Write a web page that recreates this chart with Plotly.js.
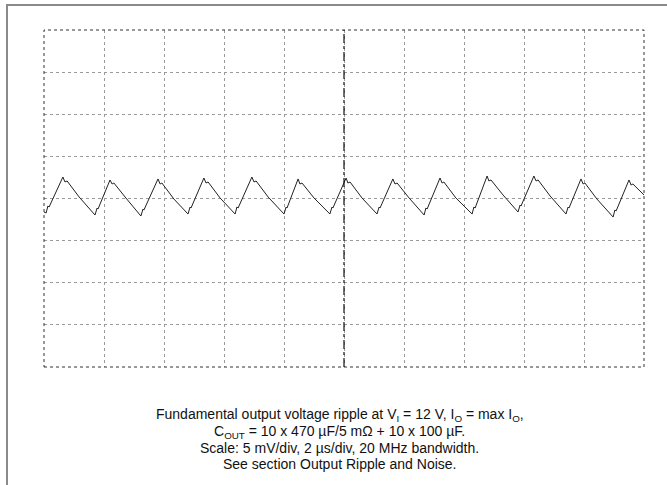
<!DOCTYPE html>
<html>
<head>
<meta charset="utf-8">
<script src="https://cdn.plot.ly/plotly-3.0.1.min.js"></script>
<style>
  html, body { margin: 0; padding: 0; background: #fff; }
  #wrap { position: relative; width: 667px; height: 485px; overflow: hidden; }
  #chart { position: absolute; left: 0; top: 0; width: 667px; height: 485px; }
  #border { position: absolute; left: 6px; top: 4px; width: 700px; height: 600px;
            border-left: 2px solid #8a8a8a; border-top: 2px solid #8a8a8a; pointer-events: none; }
</style>
</head>
<body>
<div id="wrap">
  <div id="chart"></div>
  <div id="border"></div>
</div>
<script>
// Oscilloscope trace: time in µs (2 µs/div), voltage in mV (5 mV/div)
const timeUs = [
  0.00, 0.07, 0.13, 0.17, 0.63, 0.70, 0.77, 1.17, 1.70,
  1.77, 1.80, 2.20, 2.27, 2.33, 2.73, 3.23,
  3.30, 3.33, 3.80, 3.87, 3.93, 4.33, 4.80,
  4.87, 4.90, 5.33, 5.40, 5.47, 5.87, 6.37,
  6.43, 6.47, 6.93, 7.00, 7.07, 7.47, 8.00,
  8.07, 8.10, 8.47, 8.53, 8.60, 9.00, 9.53,
  9.60, 9.63, 10.07, 10.13, 10.20, 10.60, 11.10,
  11.17, 11.20, 11.63, 11.70, 11.77, 12.17, 12.67,
  12.73, 12.77, 13.20, 13.27, 13.33, 13.73, 14.27,
  14.33, 14.37, 14.77, 14.83, 14.90, 15.30, 15.80,
  15.87, 15.90, 16.33, 16.40, 16.47, 16.87, 17.40,
  17.47, 17.50, 17.90, 17.97, 18.03, 18.43, 18.97,
  19.03, 19.07, 19.50, 19.57, 19.63, 20.00
];
const rippleMv = [
  -1.60, -1.72, -0.89, -1.01, 2.55, 1.96, 2.08, 0.18, -1.96,
  -1.13, -1.25, 2.20, 1.72, 1.84, 0.06, -2.08,
  -1.25, -1.37, 2.32, 1.72, 1.84, -0.06, -1.84,
  -1.01, -1.13, 2.43, 1.84, 1.96, 0.06, -1.84,
  -1.01, -1.13, 2.55, 1.96, 2.08, 0.18, -1.84,
  -1.01, -1.13, 2.32, 1.72, 1.84, 0.06, -1.84,
  -1.01, -1.13, 2.43, 1.84, 1.96, 0.06, -1.84,
  -1.01, -1.13, 2.32, 1.72, 1.84, 0.06, -1.96,
  -1.13, -1.25, 2.43, 1.84, 1.96, 0.06, -1.84,
  -1.01, -1.13, 2.67, 2.08, 2.20, 0.42, -1.60,
  -0.77, -0.89, 2.67, 2.08, 2.20, 0.30, -1.84,
  -1.01, -1.13, 2.32, 1.72, 1.84, -0.06, -2.20,
  -1.37, -1.48, 2.20, 1.60, 1.72, 0.42
];
const xRange = [0, 20];      // 10 divisions × 2 µs
const yRange = [-20, 20];    // 8 divisions × 5 mV
const captionLines = [
  "Fundamental output voltage ripple at V<sub>I</sub> = 12 V, I<sub>O</sub> = max I<sub>O</sub>,",
  "C<sub>OUT</sub> = 10 x 470 µF/5 mΩ + 10 x 100 µF.",
  "Scale: 5 mV/div, 2 µs/div, 20 MHz bandwidth.",
  "See section Output Ripple and Noise."
];
const captionY = [-0.142, -0.192, -0.240, -0.288];

const trace = {
  x: timeUs, y: rippleMv, type: 'scatter', mode: 'lines',
  line: { color: '#222', width: 1 }, hoverinfo: 'skip'
};

const layout = {
  width: 667, height: 485,
  margin: { l: 44, r: 23, t: 30, b: 118 },
  paper_bgcolor: '#fff', plot_bgcolor: '#fff',
  showlegend: false,
  font: { family: 'Liberation Sans, Arial, sans-serif', color: '#000' },
  xaxis: {
    range: xRange, dtick: 2, tick0: 0, showticklabels: false, ticks: '',
    showgrid: true, gridcolor: '#9a9a9a', griddash: 'dot', gridwidth: 1,
    zeroline: false, showline: false, fixedrange: true
  },
  yaxis: {
    range: yRange, dtick: 5, tick0: -20, showticklabels: false, ticks: '',
    showgrid: true, gridcolor: '#9a9a9a', griddash: 'dot', gridwidth: 1,
    zeroline: false, showline: false, fixedrange: true
  },
  shapes: [
    { type: 'rect', xref: 'paper', yref: 'paper', x0: 0, x1: 1, y0: 0, y1: 1,
      line: { color: '#333', width: 1, dash: 'dot' } },
    { type: 'line', xref: 'x', yref: 'paper', x0: 10, x1: 10, y0: 0, y1: 1,
      line: { color: '#111', width: 1.2, dash: 'dashdot' } }
  ],
  annotations: captionLines.map((t, i) => ({
    xref: 'paper', yref: 'paper', x: 0.493, y: captionY[i],
    xanchor: 'center', yanchor: 'middle', showarrow: false, align: 'center',
    text: t,
    font: { size: 14, color: '#111', family: 'Liberation Sans, Arial, sans-serif' }
  }))
};

Plotly.newPlot('chart', [trace], layout, { displayModeBar: false, staticPlot: true });
</script>
</body>
</html>
